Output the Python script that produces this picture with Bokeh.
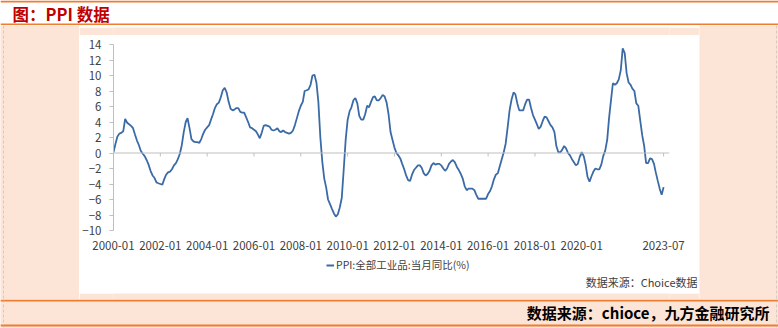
import pandas as pd
from bokeh.plotting import figure
from bokeh.layouts import column, row
from bokeh.models import (ColumnDataSource, FixedTicker, DatetimeTickFormatter, Title,
                          Legend, LegendItem, Label, BoxAnnotation, Range1d, Span)
from bokeh.embed import file_html
from bokeh.resources import INLINE

# ---------------- data ----------------
start_month = "2000-01-01"
ppi_2000_2003 = [0.1, 1.2, 2.1, 2.5, 2.6, 2.8, 4.4, 3.9, 3.7, 3.5, 3.2, 2.4,
                 1.6, 1.0, 0.3, -0.1, -0.4, -0.9, -1.5, -2.3, -2.9, -3.2, -3.8, -3.9,
                 -4.0, -4.1, -3.4, -2.8, -2.5, -2.4, -2.1, -1.6, -1.3, -0.8, -0.1, 1.0,
                 2.7, 4.0, 4.5, 3.2, 1.8, 1.5, 1.4, 1.4, 1.3, 1.8, 2.5, 3.0]
ppi_2004_2007 = [3.3, 3.6, 4.3, 5.0, 5.8, 6.3, 6.5, 7.2, 8.1, 8.4, 7.8, 6.6,
                 5.7, 5.5, 5.6, 5.8, 5.8, 5.3, 5.2, 5.2, 4.6, 4.0, 3.3, 3.2,
                 3.0, 2.8, 2.4, 1.9, 2.6, 3.5, 3.6, 3.5, 3.4, 3.0, 2.9, 3.0,
                 3.2, 2.8, 2.7, 2.9, 2.7, 2.6, 2.5, 2.6, 2.9, 3.6, 4.5, 5.4]
ppi_2008_2011 = [6.1, 6.6, 8.0, 8.1, 8.2, 8.8, 10.0, 10.1, 9.1, 6.6, 2.0, -1.1,
                 -3.3, -4.5, -6.0, -6.6, -7.2, -7.8, -8.2, -7.9, -7.0, -5.8, -2.1, 1.7,
                 4.3, 5.4, 5.9, 6.8, 7.1, 6.4, 4.8, 4.3, 4.3, 5.0, 6.1, 5.9,
                 6.6, 7.2, 7.3, 6.8, 6.8, 7.1, 7.5, 7.3, 6.5, 5.0, 2.7, 1.7]
ppi_2012_2015 = [0.7, 0.0, -0.3, -0.7, -1.4, -2.1, -2.9, -3.5, -3.6, -2.8, -2.2, -1.9,
                 -1.6, -1.6, -1.9, -2.6, -2.9, -2.7, -2.3, -1.6, -1.3, -1.5, -1.4, -1.4,
                 -1.6, -2.0, -2.3, -2.0, -1.4, -1.1, -0.9, -1.2, -1.8, -2.2, -2.7, -3.3,
                 -4.3, -4.8, -4.6, -4.6, -4.6, -4.8, -5.4, -5.9, -5.9, -5.9, -5.9, -5.9]
ppi_2016_2019 = [-5.3, -4.9, -4.3, -3.4, -2.8, -2.6, -1.7, -0.8, 0.1, 1.2, 3.3, 5.5,
                 6.9, 7.8, 7.6, 6.4, 5.5, 5.5, 5.5, 6.3, 6.9, 6.9, 5.8, 4.9,
                 4.3, 3.7, 3.1, 3.4, 4.1, 4.7, 4.6, 4.1, 3.6, 3.3, 2.7, 0.9,
                 0.1, 0.1, 0.4, 0.9, 0.6, 0.0, -0.3, -0.8, -1.2, -1.6, -1.4, -0.5]
ppi_2020_2023 = [0.1, -0.4, -1.5, -3.1, -3.7, -3.0, -2.4, -2.0, -2.1, -2.1, -1.5, -0.4,
                 0.3, 1.7, 4.4, 6.8, 9.0, 8.8, 9.0, 9.5, 10.7, 13.5, 12.9, 10.3,
                 9.1, 8.8, 8.3, 8.0, 6.4, 6.1, 4.2, 2.3, 0.9, -1.3, -1.3, -0.7,
                 -0.8, -1.4, -2.5, -3.6, -4.6, -5.4, -4.4]
x_tick_labels = ["2000-01", "2002-01", "2004-01", "2006-01", "2008-01", "2010-01",
                 "2012-01", "2014-01", "2016-01", "2018-01", "2020-01", "2023-07"]
y_ticks = [-10, -8, -6, -4, -2, 0, 2, 4, 6, 8, 10, 12, 14]
series_name = "PPI:全部工业品:当月同比(%)"
title_text = "图：PPI 数据"
chart_source_text = "数据来源：Choice数据"
footer_text = "数据来源：chioce，九方金融研究所"

values = ppi_2000_2003 + ppi_2004_2007 + ppi_2008_2011 + ppi_2012_2015 + ppi_2016_2019 + ppi_2020_2023
dates = pd.date_range(start=start_month, periods=len(values), freq="MS")
src = ColumnDataSource(dict(date=dates, ppi=values))

tick_dates = [pd.Timestamp(t + "-01") for t in x_tick_labels]
tick_ms = [t.timestamp() * 1000.0 for t in tick_dates]

# ---------------- styling ----------------
PEACH = "#FCE4D6"
ORANGE = "#ED7D31"
LINE = "#3B6BA6"
AXIS = "#BFBFBF"
TXT = "#404040"
FONT = "Noto Sans CJK SC"
DASH = "#B4B4B4"


def plain(w, h, bg):
    f = figure(width=w, height=h, output_backend="svg", toolbar_location=None,
               x_axis_type=None, y_axis_type=None,
               x_range=Range1d(0, 1), y_range=Range1d(0, 1),
               min_border=0, min_border_left=0, min_border_right=0,
               min_border_top=0, min_border_bottom=0)
    f.background_fill_color = bg
    f.border_fill_color = bg
    f.outline_line_color = None
    return f


def hbox(f, h, top, bottom, color):
    # top/bottom given in pixels from the top of figure f (height h)
    f.add_layout(BoxAnnotation(left=0, right=f.width, top=h - top, bottom=h - bottom,
                               left_units="screen", right_units="screen",
                               top_units="screen", bottom_units="screen",
                               fill_color=color, fill_alpha=1.0, line_color=None))


def vdash(f, h, x):
    f.add_layout(BoxAnnotation(left=x, right=x, top=h, bottom=0,
                               left_units="screen", right_units="screen",
                               top_units="screen", bottom_units="screen",
                               fill_alpha=0.0, line_color=DASH, line_dash="3 2",
                               line_width=1))


# ---- header (canvas y 0..25)
header = plain(778, 25, "white")
hbox(header, 25, 0, 2, ORANGE)
hbox(header, 25, 23, 25, ORANGE)
header.add_layout(Label(x=12, y=12, x_units="screen", y_units="screen", text=title_text,
                        text_align="left", text_baseline="middle", text_font=FONT,
                        text_font_size="16.5px", text_font_style="bold", text_color="#C00000"))

# ---- side pads (canvas y 25..299)
left_pad = plain(79, 274, PEACH)
vdash(left_pad, 274, 3)
right_pad = plain(79, 274, PEACH)
vdash(right_pad, 274, 776 - 699)

top_pad = plain(620, 10, PEACH)
bottom_pad = plain(620, 9, PEACH)

# ---- main chart (canvas x 79..699, y 35..255)
p = figure(width=620, height=220, output_backend="svg", toolbar_location=None,
           x_axis_type="datetime",
           x_range=Range1d(pd.Timestamp("2000-01-01"), pd.Timestamp("2023-10-01")),
           y_range=Range1d(-10, 14),
           min_border_left=33, min_border_right=30, min_border_top=9, min_border_bottom=25)
p.border_fill_color = "white"
p.background_fill_color = "white"
p.outline_line_color = None
p.xgrid.visible = False
p.ygrid.visible = False

p.add_layout(Span(location=0, dimension="width", line_color=AXIS, line_width=1))
p.segment(x0=tick_dates, x1=tick_dates, y0=[0] * len(tick_dates), y1=[-0.45] * len(tick_dates),
          line_color=AXIS, line_width=1)

r = p.line("date", "ppi", source=src, line_color=LINE, line_width=1.8)

ya = p.yaxis[0]
ya.ticker = FixedTicker(ticks=y_ticks)
ya.axis_line_color = AXIS
ya.major_tick_line_color = AXIS
ya.major_tick_out = 4
ya.major_tick_in = 0
ya.minor_tick_line_color = None
ya.major_label_standoff = 8
ya.major_label_text_font = FONT
ya.major_label_text_font_size = "11.5px"
ya.major_label_text_color = TXT

fmt = DatetimeTickFormatter(years="%Y-%m", months="%Y-%m", days="%Y-%m", hours="%Y-%m",
                            minutes="%Y-%m", hourmin="%Y-%m", seconds="%Y-%m",
                            minsec="%Y-%m", milliseconds="%Y-%m", microseconds="%Y-%m")
xa = p.xaxis[0]
xa.ticker = FixedTicker(ticks=tick_ms)
xa.formatter = fmt
xa.axis_line_color = None
xa.major_tick_line_color = None
xa.minor_tick_line_color = None
xa.major_tick_out = 0
xa.major_tick_in = 0
xa.major_label_standoff = 10
xa.major_label_text_font = FONT
xa.major_label_text_font_size = "11.5px"
xa.major_label_text_color = TXT

# ---- legend + source strip (canvas y 255..290); its frame is aligned to x 112..669
leg = plain(620, 35, "white")
leg.min_border_bottom = 16
# same series, drawn far outside this strip's ranges (clipped), only used as legend glyph
proxy = leg.line("date", "ppi", source=src, line_color=LINE, line_width=2)
legend = Legend(items=[LegendItem(label=series_name, renderers=[proxy])],
                orientation="horizontal", location=(325 - 112, 0),
                border_line_color=None, background_fill_alpha=0,
                label_text_font=FONT, label_text_font_size="10.5px", label_text_color=TXT,
                glyph_width=8, glyph_height=14, padding=0, margin=0, spacing=0,
                label_standoff=2, label_height=14)
leg.add_layout(legend, "center")
leg.add_layout(Title(text=chart_source_text, align="right", offset=-28, standoff=0,
                     vertical_align="middle", text_font=FONT, text_font_size="11px",
                     text_font_style="normal", text_color=TXT), "below")

# ---- footer (canvas y 299..328)
footer = plain(778, 29, PEACH)
hbox(footer, 29, 0, 2, ORANGE)
hbox(footer, 29, 25, 27, ORANGE)
vdash(footer, 29, 3)
vdash(footer, 29, 776)
footer.add_layout(Label(x=769, y=29 - 13, x_units="screen", y_units="screen", text=footer_text,
                        text_align="right", text_baseline="middle", text_font=FONT,
                        text_font_size="15px", text_font_style="bold", text_color="#000000"))

layout = column(header,
                row(left_pad, column(top_pad, p, leg, bottom_pad, spacing=0), right_pad, spacing=0),
                footer, spacing=0)

open("out.html", "w").write(file_html(layout, INLINE))
